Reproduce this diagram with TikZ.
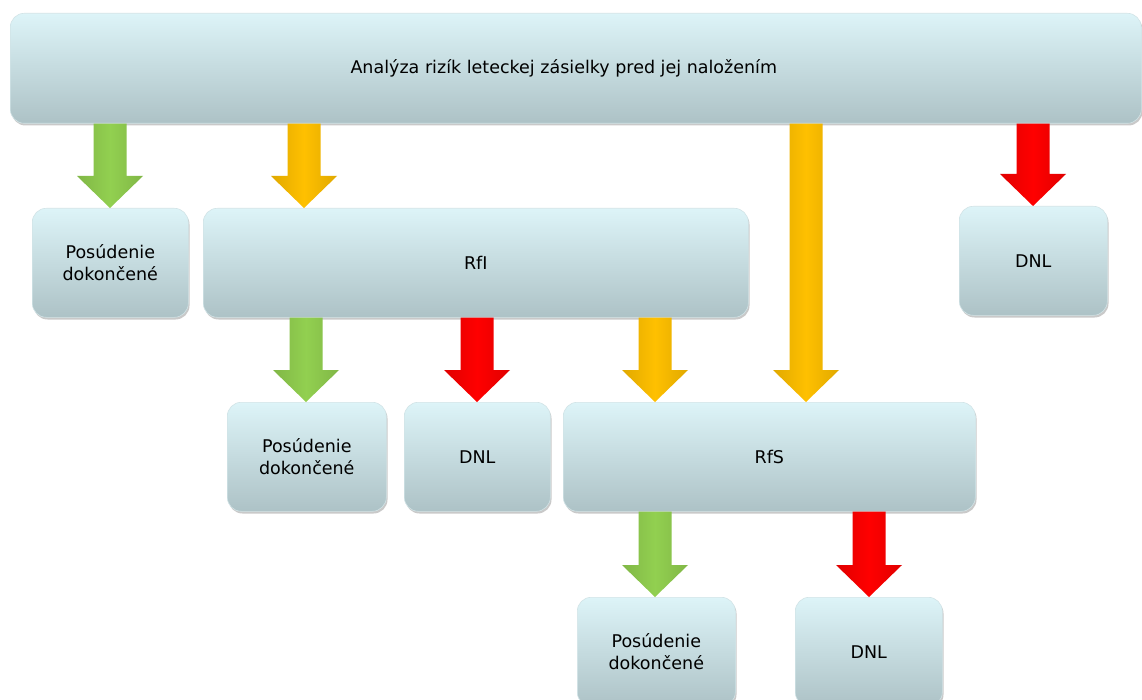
\documentclass[tikz,border=0pt]{standalone}
\usepackage{fontspec}
\setmainfont{DejaVu Sans}
\usetikzlibrary{calc,shadows}
\definecolor{boxtop}{HTML}{DDF4F8}
\definecolor{boxbot}{HTML}{ADC2C6}
\definecolor{boxedge}{HTML}{D2E4E7}
\definecolor{agreen}{HTML}{92D050}
\definecolor{ayellow}{HTML}{FFC000}
\definecolor{ared}{HTML}{FF0000}
\begin{document}
\begin{tikzpicture}[x=1pt,y=-1pt,
  box/.style={rounded corners=14pt, top color=boxtop, bottom color=boxbot,
    draw=boxedge, line width=0.6pt,
    drop shadow={shadow xshift=1.2pt, shadow yshift=-2.2pt, opacity=0.35, fill=black!60},
    font=\fontsize{17.5}{21.5}\selectfont, align=center, inner sep=0pt, anchor=north west},
  blk/.style={left color=#1!88!black, right color=#1!88!black, middle color=#1,
    to path={let \p1=(\tikztostart), \p2=(\tikztotarget) in
      (\x1-16.5pt,\y1) -- (\x1-16.5pt,\y2+32pt) -- (\x1-33pt,\y2+32pt) -- (\x1,\y2)
      -- (\x1+33pt,\y2+32pt) -- (\x1+16.5pt,\y2+32pt) -- (\x1+16.5pt,\y1) -- cycle}}]
\fill[white] (0,0) rectangle (1142,700);
\useasboundingbox (0,0) rectangle (1142,700);

% boxes
\node[box, minimum width=1131pt, minimum height=110pt] (top) at (10,13)
  {Analýza rizík leteckej zásielky pred jej naložením\hspace*{24pt}};
\node[box, minimum width=156pt, minimum height=109pt] (p1) at (32,208) {Posúdenie\\dokončené};
\node[box, minimum width=545pt, minimum height=109pt] (rfi) at (203,208) {RfI};
\node[box, minimum width=148pt, minimum height=109pt] (dnl1) at (959,206) {DNL};
\node[box, minimum width=159pt, minimum height=109pt] (p2) at (227,402) {Posúdenie\\dokončené};
\node[box, minimum width=146pt, minimum height=109pt] (dnl2) at (404,402) {DNL};
\node[box, minimum width=412pt, minimum height=109pt] (rfs) at (563,402) {RfS};
\node[box, minimum width=158pt, minimum height=109pt] (p3) at (577,597) {Posúdenie\\dokončené};
\node[box, minimum width=147pt, minimum height=109pt] (dnl3) at (795,597) {DNL};

% arrow columns
\coordinate (c1) at (110,0);
\coordinate (c2) at (304,0);
\coordinate (c3) at (806,0);
\coordinate (c4) at (1033,0);
\coordinate (c5) at (306,0);
\coordinate (c6) at (477,0);
\coordinate (c7) at (655,0);
\coordinate (c8) at (869,0);

% block arrows
\path[blk=agreen]  (top.south -| c1) to (p1.north -| c1);
\path[blk=ayellow] (top.south -| c2) to (rfi.north -| c2);
\path[blk=ayellow] (top.south -| c3) to (rfs.north -| c3);
\path[blk=ared]    (top.south -| c4) to (dnl1.north -| c4);
\path[blk=agreen]  (rfi.south -| c5) to (p2.north -| c5);
\path[blk=ared]    (rfi.south -| c6) to (dnl2.north -| c6);
\path[blk=ayellow] (rfi.south -| c7) to (rfs.north -| c7);
\path[blk=agreen]  (rfs.south -| c7) to (p3.north -| c7);
\path[blk=ared]    (rfs.south -| c8) to (dnl3.north -| c8);
\end{tikzpicture}
\end{document}
